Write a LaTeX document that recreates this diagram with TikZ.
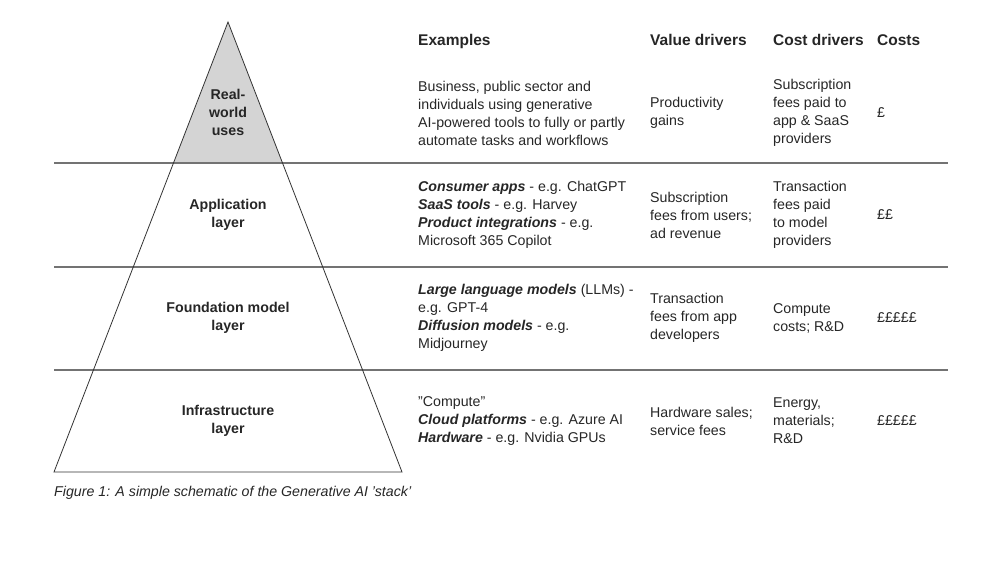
\documentclass[tikz,border=0pt]{standalone}
\usepackage{fontspec}
\defaultfontfeatures{Ligatures=ResetAll}
\setmainfont{Liberation Sans}[Ligatures=ResetAll]
\begin{document}
\begin{tikzpicture}[x=1pt,y=-1pt,
  txt/.style={anchor=west,align=left,font=\fontsize{14.2}{18}\selectfont,text=black!85,inner sep=0pt},
  hd/.style={anchor=base west,font=\fontsize{15.5}{18}\selectfont\bfseries,text=black!85,inner sep=0pt},
  lay/.style={align=center,font=\fontsize{14.2}{18}\selectfont\bfseries,text=black!85,inner sep=0pt},
  sep/.style={draw=black!55,line width=1.2pt}]
\useasboundingbox (0,0) rectangle (989,561);
\coordinate (apex) at (228,22);
\coordinate (bl) at (54,472);
\coordinate (br) at (402,472);
\coordinate (t1l) at (173.5,163);
\coordinate (t1r) at (282.5,163);
\fill[black!17] (apex) -- (t1l) -- (t1r) -- cycle;
\coordinate (l1) at (54,163); \coordinate (r1) at (948,163);
\coordinate (l2) at (54,267); \coordinate (r2) at (948,267);
\coordinate (l3) at (54,370); \coordinate (r3) at (948,370);
\draw[sep] (l1) -- (r1);
\draw[sep] (l2) -- (r2);
\draw[sep] (l3) -- (r3);
\draw[black!80,line width=0.8pt,line join=miter] (apex) -- (bl) -- (br) -- cycle;
\node[lay] (p1) at (228,112) {Real-\\world\\uses};
\node[lay] (p2) at (228,215) {Application\\layer};
\node[lay] (p3) at (228,318) {Foundation model\\layer};
\node[lay] (p4) at (228,421) {Infrastructure\\layer};
\node[hd] (h1) at (418,46) {Examples};
\node[hd] (h2) at (650,46) {Value drivers};
\node[hd] (h3) at (773,46) {Cost drivers};
\node[hd] (h4) at (877,46) {Costs};
\node[txt] (e1) at (418,113) {Business, public sector and\\individuals using generative\\AI-powered tools to fully or partly\\automate tasks and workflows};
\node[txt] (v1) at (650,113) {Productivity\\gains};
\node[txt] (c1) at (773,113) {Subscription\\fees paid to\\app \& SaaS\\providers};
\node[txt] (k1) at (877,113) {£};
\node[txt] (e2) at (418,215) {\textbf{\itshape Consumer apps} - e.g. ChatGPT\\\textbf{\itshape SaaS tools} - e.g. Harvey\\\textbf{\itshape Product integrations} - e.g.\\Microsoft 365 Copilot};
\node[txt] (v2) at (650,215) {Subscription\\fees from users;\\ad revenue};
\node[txt] (c2) at (773,215) {Transaction\\fees paid\\to model\\providers};
\node[txt] (k2) at (877,215) {££};
\node[txt] (e3) at (418,318) {\textbf{\itshape Large language models} (LLMs) -\\e.g. GPT-4\\\textbf{\itshape Diffusion models} - e.g.\\Midjourney};
\node[txt] (v3) at (650,318) {Transaction\\fees from app\\developers};
\node[txt] (c3) at (773,318) {Compute\\costs; R\&D};
\node[txt] (k3) at (877,318) {£££££};
\node[txt] (e4) at (418,421) {"Compute"\\\textbf{\itshape Cloud platforms} - e.g. Azure AI\\\textbf{\itshape Hardware} - e.g. Nvidia GPUs};
\node[txt] (v4) at (650,421) {Hardware sales;\\service fees};
\node[txt] (c4) at (773,421) {Energy,\\materials;\\R\&D};
\node[txt] (k4) at (877,421) {£££££};
\node[txt,font=\fontsize{14.2}{18}\selectfont\itshape] (cap) at (54,493) {Figure 1: A simple schematic of the Generative AI 'stack'};
\end{tikzpicture}
\end{document}
